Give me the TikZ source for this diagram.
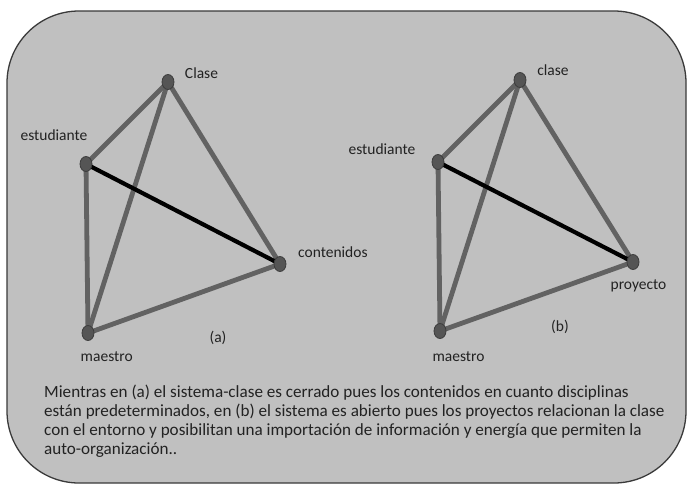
\documentclass[tikz,border=0pt]{standalone}
\usepackage{fontspec}
\setmainfont{Carlito}
\definecolor{bgfill}{HTML}{C0C0C0}
\definecolor{frame}{HTML}{3A3A3A}
\definecolor{edgegray}{HTML}{626262}
\definecolor{vertfill}{HTML}{555555}
\definecolor{vertdraw}{HTML}{3C3C3C}
\definecolor{txt}{HTML}{222222}
\usetikzlibrary{shapes.geometric}
\tikzset{
  vert/.style={ellipse, draw=vertdraw, fill=vertfill, line width=0.8pt, minimum width=12pt, minimum height=15pt, inner sep=0pt},
  edgeg/.style={draw=edgegray, line width=4.8pt},
  edgek/.style={draw=black, line width=4.2pt},
  lbl/.style={font=\fontsize{15.5}{18}\selectfont, text=txt, inner sep=0pt},
  capline/.style={font=\fontsize{17.1}{19}\selectfont, text=txt, inner sep=0pt, anchor=base west},
}
\begin{document}
\begin{tikzpicture}[x=1pt,y=-1pt]
\useasboundingbox (0,0) rectangle (688,485);
\fill[white] (0,0) rectangle (688,485);
\draw[frame, fill=bgfill, line width=1.3pt, rounded corners=72pt] (7,11) rectangle (686,483);

% (a)
\coordinate (C1) at (168,82);
\coordinate (E1) at (86,164);
\coordinate (K1) at (280,264);
\coordinate (M1) at (88,333);
\draw[edgeg] (C1) -- (E1);
\draw[edgeg] (C1) -- (M1);
\draw[edgeg] (C1) -- (K1);
\draw[edgeg] (E1) -- (M1);
\draw[edgeg] (M1) -- (K1);
\draw[edgek] (E1) -- (K1);
\node[vert] (c1) at (C1) {};
\node[vert] (e1) at (E1) {};
\node[vert] (k1) at (K1) {};
\node[vert] (m1) at (M1) {};
\node[lbl] (lc1) at (201.5,73) {Clase};
\node[lbl] (le1) at (54,135) {estudiante};
\node[lbl, anchor=west] (lk1) at (298,252) {contenidos};
\node[lbl] (lm1) at (106.7,357) {maestro};
\node[lbl] (la) at (218,338) {(a)};

% (b)
\coordinate (C2) at (520,80);
\coordinate (E2) at (438,162);
\coordinate (P2) at (633,262);
\coordinate (M2) at (440,331);
\draw[edgeg] (C2) -- (E2);
\draw[edgeg] (C2) -- (M2);
\draw[edgeg] (C2) -- (P2);
\draw[edgeg] (E2) -- (M2);
\draw[edgeg] (M2) -- (P2);
\draw[edgek] (E2) -- (P2);
\node[vert] (c2) at (C2) {};
\node[vert] (e2) at (E2) {};
\node[vert] (p2) at (P2) {};
\node[vert] (m2) at (M2) {};
\node[lbl] (lc2) at (553,70) {clase};
\node[lbl] (le2) at (382,149) {estudiante};
\node[lbl] (lp2) at (638.5,286) {proyecto};
\node[lbl] (lm2) at (458.5,357) {maestro};
\node[lbl] (lb) at (560,327) {(b)};

\node[capline] (cap1) at (44,397) {Mientras en (a) el sistema-clase es cerrado pues los contenidos en cuanto disciplinas};
\node[capline] (cap2) at (44,416.3) {están predeterminados, en (b) el sistema es abierto pues los proyectos relacionan la clase};
\node[capline] (cap3) at (44,435.6) {con el entorno y posibilitan una importación de información y energía que permiten la};
\node[capline] (cap4) at (44,454.9) {auto-organización..};
\end{tikzpicture}
\end{document}
